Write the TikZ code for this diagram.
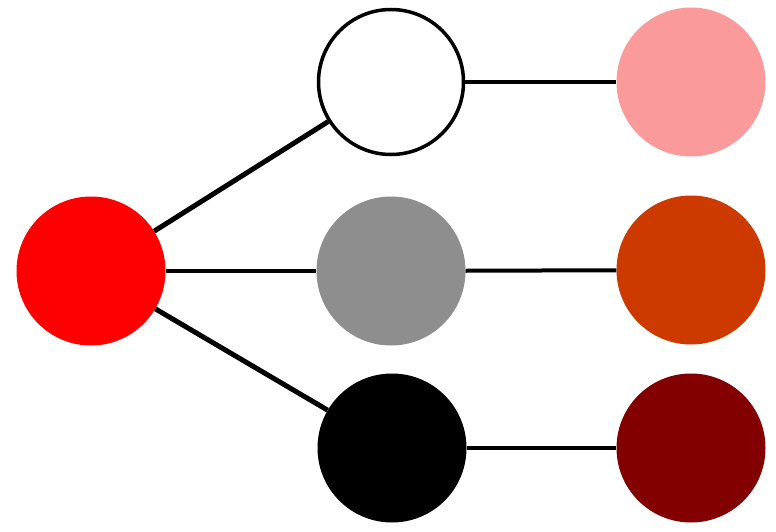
\documentclass[tikz,border=0pt]{standalone}
\definecolor{pinkc}{HTML}{FA9A9A}
\definecolor{orangec}{HTML}{CC3A00}
\definecolor{darkredc}{HTML}{820000}
\definecolor{grayc}{HTML}{8E8E8E}
\begin{document}
\begin{tikzpicture}[x=1pt,y=-1pt,
  dot/.style={circle,minimum size=149pt,inner sep=0pt},
  link/.style={line width=5pt,black},
  hlink/.style={line width=4pt,black}]
\useasboundingbox (0,0) rectangle (776,532);
\node[dot,fill=red] (r) at (91,271) {};
\node[dot,draw=black,line width=3.5pt,fill=white,minimum size=145pt] (w) at (391,82) {};
\node[dot,fill=grayc] (g) at (391,271) {};
\node[dot,fill=black] (b) at (392,448) {};
\node[dot,fill=pinkc] (p) at (691,82) {};
\node[dot,fill=orangec] (o) at (691,270) {};
\node[dot,fill=darkredc] (d) at (691,448) {};
\draw[link] (r) -- (w);
\draw[hlink] (r) -- (g);
\draw[link] (r) -- (b);
\draw[hlink] (w.east) -- (p.west);
\draw[hlink] (g) -- (o);
\draw[hlink] (b) -- (d);
\end{tikzpicture}
\end{document}
